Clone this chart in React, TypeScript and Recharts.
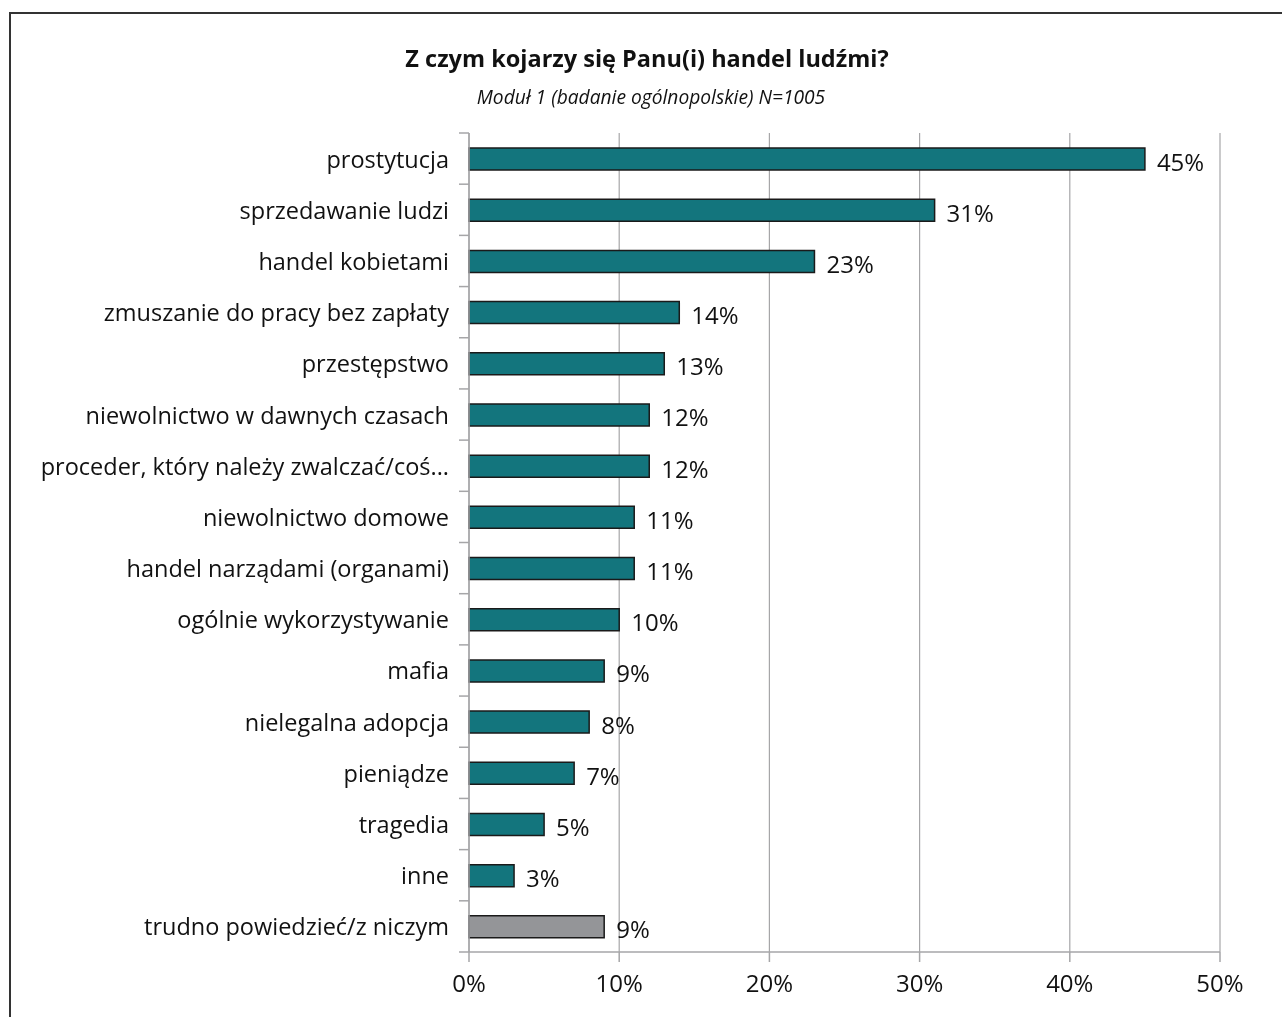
import { BarChart, Bar, XAxis, YAxis, CartesianGrid, Cell, LabelList } from "recharts";

const categories = [
  "prostytucja",
  "sprzedawanie ludzi",
  "handel kobietami",
  "zmuszanie do pracy bez zapłaty",
  "przestępstwo",
  "niewolnictwo w dawnych czasach",
  "proceder, który należy zwalczać/coś...",
  "niewolnictwo domowe",
  "handel narządami (organami)",
  "ogólnie wykorzystywanie",
  "mafia",
  "nielegalna adopcja",
  "pieniądze",
  "tragedia",
  "inne",
  "trudno powiedzieć/z niczym",
];
const values = [45, 31, 23, 14, 13, 12, 12, 11, 11, 10, 9, 8, 7, 5, 3, 9];
const xTicks = [0, 10, 20, 30, 40, 50];

const data = categories.map((name, i) => ({ name, value: values[i] }));

const W = 1274;
const H = 1009;
const AXIS_X = 461;
const TOP = 125;
const BOTTOM = 65;
const PLOT_H = H - TOP - BOTTOM;
const BAND = PLOT_H / categories.length;
const FONT = "'Open Sans', 'Noto Sans', sans-serif";
const TEAL = "#13757d";
const GREY = "#949598";
const AXIS = "#a6a6a8";

// category labels + tick marks sitting on the band boundaries
function CatTick(props: any) {
  const { y, payload, index } = props;
  return (
    <g>
      {index === 0 && (
        <line x1={AXIS_X - 10} x2={AXIS_X} y1={y - BAND / 2} y2={y - BAND / 2} stroke={AXIS} strokeWidth={1.5} />
      )}
      <line x1={AXIS_X - 10} x2={AXIS_X} y1={y + BAND / 2} y2={y + BAND / 2} stroke={AXIS} strokeWidth={1.5} />
      <text x={AXIS_X - 20} y={y} textAnchor="end" dominantBaseline="central" fontSize={23.5} fill="#111" fontFamily={FONT}>
        {payload.value}
      </text>
    </g>
  );
}

export default function App() {
  return (
    <div style={{ position: "relative", width: W, height: H, background: "#fff" }}>
      <div
        style={{
          position: "fixed",
          left: 9,
          top: 12,
          width: 1400,
          height: 1100,
          borderLeft: "2px solid #333",
          borderTop: "2px solid #333",
        }}
      />
      <div
        style={{
          position: "absolute",
          left: -8,
          width: 1282,
          top: 34,
          textAlign: "center",
          fontFamily: FONT,
          fontWeight: 700,
          fontSize: 23.5,
          color: "#111",
          paddingLeft: 12,
          boxSizing: "border-box",
        }}
      >
        Z czym kojarzy się Panu(i) handel ludźmi?
      </div>
      <div
        style={{
          position: "absolute",
          left: -8,
          width: 1282,
          top: 75,
          textAlign: "center",
          fontFamily: FONT,
          fontStyle: "italic",
          fontSize: 19.2,
          color: "#111",
          paddingLeft: 20,
          boxSizing: "border-box",
        }}
      >
        Moduł 1 (badanie ogólnopolskie) N=1005
      </div>
      <div style={{ position: "absolute", left: 0, top: 0 }}>
        <BarChart
          width={W}
          height={H}
          data={data}
          layout="vertical"
          margin={{ top: TOP, right: 62, bottom: 0, left: 0 }}
          barSize={22}
        >
          <CartesianGrid horizontal={false} stroke={AXIS} strokeWidth={1.2} />
          <XAxis
            type="number"
            domain={[0, 50]}
            ticks={xTicks}
            tickFormatter={(v: number) => `${v}%`}
            height={BOTTOM}
            stroke={AXIS}
            tickSize={10}
            tickMargin={13}
            tick={{ fill: "#111", fontSize: 24, fontFamily: FONT }}
            axisLine={{ stroke: AXIS, strokeWidth: 1.5 }}
            tickLine={{ stroke: AXIS, strokeWidth: 1.5 }}
          />
          <YAxis
            type="category"
            dataKey="name"
            width={AXIS_X}
            tickLine={false}
            axisLine={{ stroke: AXIS, strokeWidth: 1.5 }}
            tick={<CatTick />}
            interval={0}
          />
          <Bar dataKey="value" isAnimationActive={false} stroke="#1a1a1a" strokeWidth={1.5}>
            {data.map((_, i) => (
              <Cell key={i} fill={i === data.length - 1 ? GREY : TEAL} />
            ))}
            <LabelList
              dataKey="value"
              position="right"
              offset={12}
              formatter={(v: any) => `${v}%`}
              style={{ fill: "#111", fontSize: 24, fontFamily: FONT }}
              dy={3}
            />
          </Bar>
        </BarChart>
      </div>
    </div>
  );
}
